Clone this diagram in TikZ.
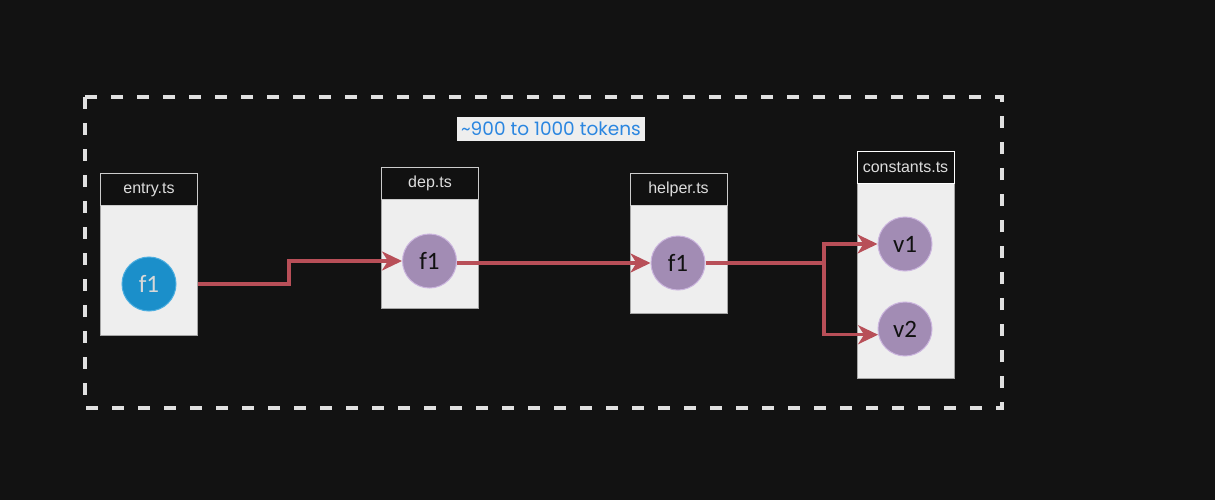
\documentclass[tikz,border=0pt]{standalone}
\usepackage{fontspec}
\setmainfont{Liberation Sans}
\newfontfamily\calfont{Carlito}
\newfontfamily\titlefont{Poppins}
\usetikzlibrary{arrows.meta}
\definecolor{bgc}{HTML}{121212}
\definecolor{panel}{HTML}{EEEEEE}
\definecolor{edgec}{HTML}{B84F58}
\definecolor{purp}{HTML}{A28CB4}
\definecolor{purpb}{HTML}{CBB5DE}
\definecolor{bluec}{HTML}{1B8FCA}
\definecolor{blueb}{HTML}{4BAEE0}
\definecolor{titleblue}{HTML}{2B86E0}
\definecolor{hdr}{HTML}{111111}
\definecolor{lbl}{HTML}{DDDDDD}
\tikzset{
  filebody/.style={draw=gray!70, fill=panel, line width=1pt, minimum width=97pt, anchor=north west, inner sep=0pt},
  fileheader/.style={draw=gray!40, fill=hdr, text=lbl, font=\fontsize{16}{19}\selectfont, line width=1pt, minimum width=97pt, minimum height=32pt, anchor=north west, inner sep=0pt},
  fnode/.style={circle, fill=purp, draw=purpb, line width=1pt, minimum size=54pt, inner sep=0pt, text=hdr, font=\calfont\fontsize{25}{28}\selectfont},
  bnode/.style={fnode, fill=bluec, draw=blueb, text=panel!80!gray},
  edge/.style={draw=edgec, line width=3.3pt, -{Stealth[length=20pt,width=19pt,inset=6pt]}},
  plainedge/.style={draw=edgec, line width=3.3pt},
  group/.style={draw=white!88!black, line width=3.3pt, dash pattern=on 12pt off 14pt},
}
\begin{document}
\begin{tikzpicture}[x=1pt,y=-1pt]
\fill[bgc] (0,0) rectangle (1215,500);
\useasboundingbox (0,0) rectangle (1215,500);
\draw[group] (85,97) rectangle (1002,408);
\node[fill=panel, text=titleblue, font=\titlefont\fontsize{18.5}{22}\selectfont, minimum width=188pt, minimum height=24pt, inner sep=0pt] (title) at (551,129) {\textasciitilde900 to 1000 tokens};
% entry.ts
\node[filebody, minimum height=162pt] (ebody) at (100,173) {};
\node[fileheader] (ehead) at (100,173) {entry.ts};
\node[bnode] (ea) at (149,284) {f1};
% dep.ts
\node[filebody, minimum height=141pt] (dbody) at (381,167) {};
\node[fileheader] (dhead) at (381,167) {dep.ts};
\node[fnode] (df) at (429.5,261) {f1};
% helper.ts
\node[filebody, minimum height=140pt] (hbody) at (629.5,173) {};
\node[fileheader] (hhead) at (629.5,173) {helper.ts};
\node[fnode] (hf) at (678,263) {f1};
% constants.ts
\node[filebody, minimum height=227pt] (cbody) at (856.5,151) {};
\node[fileheader, draw=white] (chead) at (856.5,151) {constants.ts};
\node[fnode] (v1) at (905,244) {v1};
\node[fnode] (v2) at (905,329) {v2};
% edges
\draw[edge] (ebody.east |- ea) -- ++(91,0) |- (df.west);
\draw[edge] (df.east |- hf.west) -- (hf.west);
\coordinate (split) at (824,263);
\draw[plainedge] (hf.east) -- (split);
\draw[edge] (split) |- (v1.west);
\draw[edge] (split) |- (v2.192);
\end{tikzpicture}
\end{document}
